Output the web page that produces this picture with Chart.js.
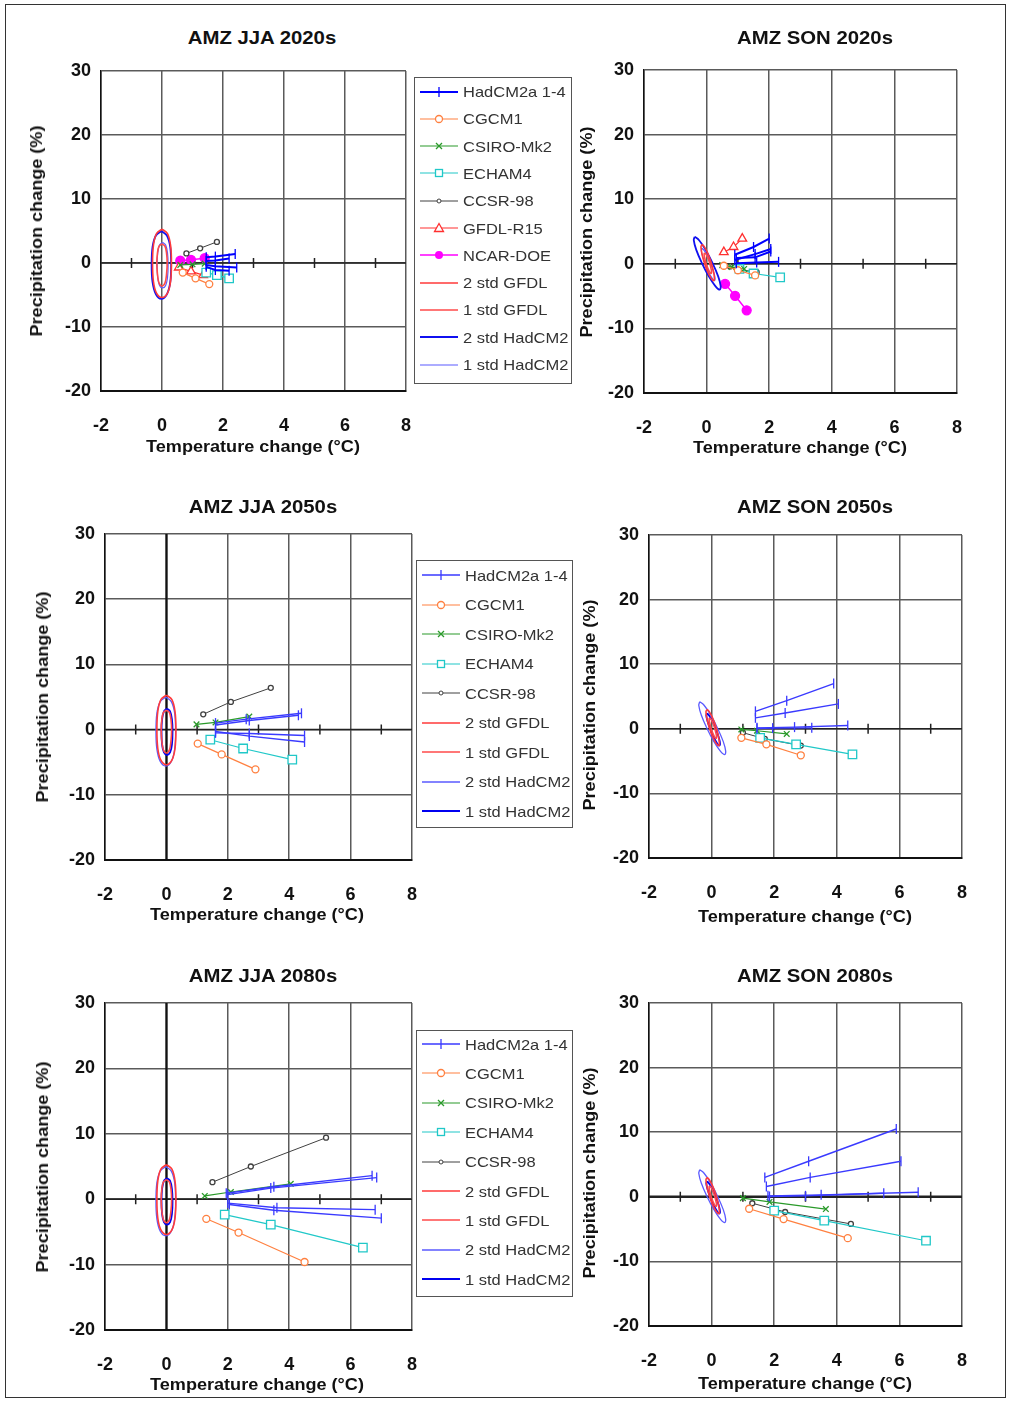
<!DOCTYPE html>
<html>
<head>
<meta charset="utf-8">
<script src="https://cdn.jsdelivr.net/npm/chart.js@4.4.0/dist/chart.umd.min.js"></script>
<style>
  html,body{margin:0;padding:0;background:#fff;}
  #page{position:relative;width:1013px;height:1401px;overflow:hidden;font-family:Arial,"Liberation Sans",sans-serif;}
  .frame{position:absolute;left:5px;top:4px;width:1001px;height:1394px;border:1.5px solid #333;box-sizing:border-box;}
  canvas{position:absolute;}
  .txt{position:absolute;white-space:nowrap;font-weight:bold;color:#111;}
  .legend{position:absolute;border:1.5px solid #555;box-sizing:border-box;background:#fff;z-index:5;}
  .row{position:absolute;left:4px;height:16px;display:flex;align-items:center;}
  .row span{font-size:15px;color:#333;display:inline-block;transform-origin:left center;transform:scaleX(1.1);margin-left:4px;}
</style>
</head>
<body>
<div id="page"><div class="frame"></div></div>
<script>
/* ---------- axes ---------- */
const X_TICKS = [-2, 0, 2, 4, 6, 8];
const Y_TICKS = [-20, -10, 0, 10, 20, 30];
const X_MARKS = [-1, 1, 3, 5, 7];   // small ticks on the y=0 axis line

/* ---------- texts ---------- */
const TITLES  = ["AMZ JJA 2020s","AMZ SON 2020s","AMZ JJA 2050s","AMZ SON 2050s","AMZ JJA 2080s","AMZ SON 2080s"];
const X_TITLE = "Temperature change (°C)";
const Y_TITLE = "Precipitation change (%)";
const LEGEND_2020S = ["HadCM2a 1-4","CGCM1","CSIRO-Mk2","ECHAM4","CCSR-98","GFDL-R15","NCAR-DOE","2 std GFDL","1 std GFDL","2 std HadCM2","1 std HadCM2"];
const LEGEND_LATER = ["HadCM2a 1-4","CGCM1","CSIRO-Mk2","ECHAM4","CCSR-98","2 std GFDL","1 std GFDL","2 std HadCM2","1 std HadCM2"];

/* ---------- natural variability ellipses (temp °C, precip %) ---------- */
const JJA_GFDL_2STD = [[0,5.3],[0.18,4.6],[0.28,2.8],[0.31,0],[0.28,-2.9],[0.18,-4.7],[0,-5.4],[-0.18,-4.7],[-0.28,-2.9],[-0.31,0],[-0.28,2.8],[-0.18,4.6],[0,5.3]];
const JJA_GFDL_1STD = [[0,3.0],[0.1,2.6],[0.15,1.5],[0.17,0],[0.15,-1.7],[0.1,-3.1],[0,-3.6],[-0.1,-3.1],[-0.15,-1.7],[-0.17,0],[-0.15,1.5],[-0.1,2.6],[0,3.0]];
const JJA_HAD_2STD  = [[-0.02,5.0],[0.16,4.3],[0.27,2.5],[0.3,-0.3],[0.27,-3.0],[0.16,-4.9],[-0.02,-5.6],[-0.2,-4.9],[-0.31,-3.0],[-0.34,-0.3],[-0.31,2.5],[-0.2,4.3],[-0.02,5.0]];
const JJA_HAD_1STD  = [[0.02,3.2],[0.12,2.8],[0.18,1.6],[0.2,-0.3],[0.18,-2.3],[0.12,-3.5],[0.02,-3.9],[-0.08,-3.5],[-0.14,-2.3],[-0.16,-0.3],[-0.14,1.6],[-0.08,2.8],[0.02,3.2]];
const SON_GFDL_2STD = [[-0.15,3.0],[-0.07,2.62],[0.04,1.6],[0.145,0.2],[0.22,-1.2],[0.25,-2.22],[0.22,-2.6],[0.14,-2.22],[0.03,-1.2],[-0.075,0.2],[-0.15,1.6],[-0.18,2.62],[-0.15,3.0]];
const SON_GFDL_1STD = [[-0.06,1.7],[-0.02,1.49],[0.04,0.9],[0.1,0.1],[0.14,-0.7],[0.16,-1.29],[0.14,-1.5],[0.1,-1.29],[0.04,-0.7],[-0.02,0.1],[-0.06,0.9],[-0.08,1.49],[-0.06,1.7]];
const SON_HAD_2STD  = [[-0.38,4.2],[-0.24,3.65],[-0.03,2.15],[0.19,0.1],[0.37,-1.95],[0.45,-3.45],[0.42,-4.0],[0.28,-3.45],[0.07,-1.95],[-0.15,0.1],[-0.33,2.15],[-0.41,3.65],[-0.38,4.2]];
const SON_HAD_1STD  = [[-0.15,2.4],[-0.08,2.07],[0.03,1.15],[0.14,-0.1],[0.23,-1.35],[0.27,-2.27],[0.25,-2.6],[0.18,-2.27],[0.07,-1.35],[-0.04,-0.1],[-0.13,1.15],[-0.17,2.07],[-0.15,2.4]];

/* ---------- JJA 2020s ---------- */
const JJA20_HAD1   = [[1.45,0.9],[1.75,1.0],[2.4,1.4]];
const JJA20_HAD2   = [[1.45,0.3],[1.75,0.4],[2.2,0.7]];
const JJA20_HAD3   = [[1.45,-0.3],[1.75,-0.5],[2.45,-0.7]];
const JJA20_HAD4   = [[1.45,-0.6],[1.75,-1.1],[2.2,-1.2]];
const JJA20_CGCM1  = [[0.68,-1.5],[1.1,-2.4],[1.55,-3.3]];
const JJA20_CSIRO  = [[0.6,-0.3],[1.0,-0.2],[1.4,-0.1]];
const JJA20_ECHAM4 = [[1.45,-1.5],[1.8,-1.9],[2.2,-2.4]];
const JJA20_CCSR   = [[0.8,1.5],[1.25,2.3],[1.8,3.3]];
const JJA20_GFDL   = [[0.55,-0.7],[0.95,-1.3],[1.35,-1.9]];
const JJA20_NCAR   = [[0.6,0.35],[0.95,0.5],[1.4,0.75]];

/* ---------- SON 2020s ---------- */
const SON20_HAD1   = [[0.9,1.4],[1.5,2.6],[2.0,3.9]];
const SON20_HAD2   = [[0.9,0.6],[1.55,1.5],[2.05,2.3]];
const SON20_HAD3   = [[0.95,0.1],[1.6,0.2],[2.3,0.3]];
const SON20_HAD4   = [[0.95,0.9],[1.55,1.0],[2.05,1.9]];
const SON20_CGCM1  = [[0.55,-0.3],[1.0,-1.0],[1.55,-1.8]];
const SON20_CSIRO  = [[0.5,-0.2],[0.8,-0.5],[1.2,-0.8]];
const SON20_ECHAM4 = [[1.05,-0.8],[1.5,-1.5],[2.35,-2.1]];
const SON20_CCSR   = [[0.75,-0.4],[1.07,-0.9],[1.6,-1.3]];
const SON20_GFDL   = [[0.55,1.8],[0.86,2.6],[1.14,3.9]];
const SON20_NCAR   = [[0.59,-3.1],[0.91,-4.95],[1.28,-7.2]];

/* ---------- JJA 2050s ---------- */
const JJA50_HAD1   = [[1.6,1.0],[2.6,1.6],[4.4,2.5]];
const JJA50_HAD2   = [[1.6,0.7],[2.7,1.4],[4.3,2.2]];
const JJA50_HAD3   = [[1.6,-0.5],[2.7,-0.6],[4.5,-0.9]];
const JJA50_HAD4   = [[1.6,-0.3],[2.7,-1.0],[4.5,-1.9]];
const JJA50_CGCM1  = [[1.02,-2.15],[1.8,-3.8],[2.9,-6.1]];
const JJA50_CSIRO  = [[0.98,0.8],[1.6,1.1],[2.7,2.0]];
const JJA50_ECHAM4 = [[1.43,-1.55],[2.5,-2.9],[4.1,-4.6]];
const JJA50_CCSR   = [[1.2,2.35],[2.1,4.25],[3.4,6.4]];

/* ---------- SON 2050s ---------- */
const SON50_HAD1   = [[1.4,2.7],[2.4,4.35],[3.9,7.0]];
const SON50_HAD2   = [[1.4,1.7],[2.35,2.45],[4.05,3.85]];
const SON50_HAD3   = [[1.45,0.15],[2.65,0.26],[4.35,0.5]];
const SON50_HAD4   = [[1.45,0.05],[1.95,0.1],[3.2,0.15]];
const SON50_CGCM1  = [[0.95,-1.4],[1.75,-2.4],[2.85,-4.1]];
const SON50_CSIRO  = [[0.95,-0.1],[1.45,-0.3],[2.4,-0.8]];
const SON50_ECHAM4 = [[1.55,-1.4],[2.7,-2.4],[4.5,-3.95]];
const SON50_CCSR   = [[1.0,-0.6],[1.7,-1.55],[2.85,-2.6]];

/* ---------- JJA 2080s ---------- */
const JJA80_HAD1   = [[1.95,0.9],[3.5,1.9],[6.7,3.6]];
const JJA80_HAD2   = [[2.0,0.7],[3.4,1.7],[6.85,3.3]];
const JJA80_HAD3   = [[2.0,-0.6],[3.6,-1.3],[6.8,-1.6]];
const JJA80_HAD4   = [[2.05,-0.8],[3.5,-1.7],[7.0,-2.9]];
const JJA80_CGCM1  = [[1.3,-3.0],[2.35,-5.1],[4.5,-9.6]];
const JJA80_CSIRO  = [[1.25,0.5],[2.1,1.1],[4.05,2.35]];
const JJA80_ECHAM4 = [[1.9,-2.35],[3.4,-3.9],[6.4,-7.4]];
const JJA80_CCSR   = [[1.5,2.6],[2.75,5.0],[5.2,9.4]];

/* ---------- SON 2080s ---------- */
const SON80_HAD1   = [[1.7,3.0],[3.1,5.5],[5.9,10.5]];
const SON80_HAD2   = [[1.75,1.6],[3.15,3.0],[6.05,5.5]];
const SON80_HAD3   = [[1.8,0.15],[3.5,0.3],[6.6,0.7]];
const SON80_HAD4   = [[1.85,0.05],[3.0,0.15],[5.5,0.55]];
const SON80_CGCM1  = [[1.2,-1.85],[2.3,-3.45],[4.35,-6.4]];
const SON80_CSIRO  = [[1.0,-0.2],[1.85,-0.8],[3.65,-1.9]];
const SON80_ECHAM4 = [[2.0,-2.15],[3.6,-3.7],[6.85,-6.8]];
const SON80_CCSR   = [[1.3,-1.0],[2.35,-2.35],[4.45,-4.2]];

/* ---------- styles ---------- */
const STYLE = {
  "HadCM2a 1-4": {color:"#0000ff", marker:"vline",  width:2},
  "CGCM1":       {color:"#ff8040", marker:"circle", width:1.2},
  "CSIRO-Mk2":   {color:"#2a9a2a", marker:"cross",  width:1.2},
  "ECHAM4":      {color:"#20c8c8", marker:"square", width:1.2},
  "CCSR-98":     {color:"#404040", marker:"dot",    width:1},
  "GFDL-R15":    {color:"#ff3030", marker:"triangle", width:1.2},
  "NCAR-DOE":    {color:"#ff00ff", marker:"filled", width:1.5},
  "2 std GFDL":  {color:"#ff3a3a", width:1.6},
  "1 std GFDL":  {color:"#ff4a4a", width:1.6},
  "2 std HadCM2":{color:"#1010f0", width:1.8},
  "1 std HadCM2":{color:"#5a5aff", width:1.2},
};
const STYLE_LATER = Object.assign({}, STYLE, {
  "HadCM2a 1-4": {color:"#3a3aff", marker:"vline", width:1.4},
  "2 std HadCM2":{color:"#5a5aff", width:1.3},
  "1 std HadCM2":{color:"#0000f0", width:1.8},
});
const POINT = {
  vline:   {pointStyle:"line", radius:5, rotation:90, fill:null},
  circle:  {pointStyle:"circle", radius:3.5, fill:"#fff"},
  cross:   {pointStyle:"crossRot", radius:4, fill:null},
  square:  {pointStyle:"rect", radius:6, fill:"#fff"},
  dot:     {pointStyle:"circle", radius:2.5, fill:"#fff"},
  triangle:{pointStyle:"triangle", radius:5, fill:"#fff"},
  filled:  {pointStyle:"circle", radius:4.5, fill:"fill"},
};

/* ---------- panels (geometry = plot area left, top, right, bottom) ---------- */
const PANELS = [
  {area:[101,71,406,391],  title:[262,38],  xt:[253,447],  yt:[37,231],  styles:STYLE, ell:"JJA", hw:1.5, v0:false,
   series:[["HadCM2a 1-4",[JJA20_HAD1,JJA20_HAD2,JJA20_HAD3,JJA20_HAD4]],["CGCM1",[JJA20_CGCM1]],["CSIRO-Mk2",[JJA20_CSIRO]],["ECHAM4",[JJA20_ECHAM4]],["CCSR-98",[JJA20_CCSR]],["GFDL-R15",[JJA20_GFDL]],["NCAR-DOE",[JJA20_NCAR]]]},
  {area:[644,70,957,393],  title:[815,38],  xt:[800,448],  yt:[587,232], styles:STYLE, ell:"SON", hw:1.5, v0:false,
   series:[["HadCM2a 1-4",[SON20_HAD1,SON20_HAD2,SON20_HAD3,SON20_HAD4]],["CGCM1",[SON20_CGCM1]],["CSIRO-Mk2",[SON20_CSIRO]],["ECHAM4",[SON20_ECHAM4]],["CCSR-98",[SON20_CCSR]],["GFDL-R15",[SON20_GFDL]],["NCAR-DOE",[SON20_NCAR]]]},
  {area:[105,534,412,860], title:[263,507], xt:[257,915],  yt:[43,697],  styles:STYLE_LATER, ell:"JJA", hw:1.5, v0:true,
   series:[["HadCM2a 1-4",[JJA50_HAD1,JJA50_HAD2,JJA50_HAD3,JJA50_HAD4]],["CGCM1",[JJA50_CGCM1]],["CSIRO-Mk2",[JJA50_CSIRO]],["ECHAM4",[JJA50_ECHAM4]],["CCSR-98",[JJA50_CCSR]]]},
  {area:[649,535,962,858], title:[815,507], xt:[805,917],  yt:[590,705], styles:STYLE_LATER, ell:"SON", hw:1.5, v0:false,
   series:[["HadCM2a 1-4",[SON50_HAD1,SON50_HAD2,SON50_HAD3,SON50_HAD4]],["CGCM1",[SON50_CGCM1]],["CSIRO-Mk2",[SON50_CSIRO]],["ECHAM4",[SON50_ECHAM4]],["CCSR-98",[SON50_CCSR]]]},
  {area:[105,1003,412,1330], title:[263,976], xt:[257,1385], yt:[43,1167], styles:STYLE_LATER, ell:"JJA", hw:1.5, v0:true,
   series:[["HadCM2a 1-4",[JJA80_HAD1,JJA80_HAD2,JJA80_HAD3,JJA80_HAD4]],["CGCM1",[JJA80_CGCM1]],["CSIRO-Mk2",[JJA80_CSIRO]],["ECHAM4",[JJA80_ECHAM4]],["CCSR-98",[JJA80_CCSR]]]},
  {area:[649,1003,962,1326], title:[815,976], xt:[805,1384], yt:[590,1173], styles:STYLE_LATER, ell:"SON", hw:2.5, v0:false,
   series:[["HadCM2a 1-4",[SON80_HAD1,SON80_HAD2,SON80_HAD3,SON80_HAD4]],["CGCM1",[SON80_CGCM1]],["CSIRO-Mk2",[SON80_CSIRO]],["ECHAM4",[SON80_ECHAM4]],["CCSR-98",[SON80_CCSR]]]},
];
const ELLIPSES = {
  JJA:[["2 std GFDL",JJA_GFDL_2STD],["1 std GFDL",JJA_GFDL_1STD],["2 std HadCM2",JJA_HAD_2STD],["1 std HadCM2",JJA_HAD_1STD]],
  SON:[["2 std GFDL",SON_GFDL_2STD],["1 std GFDL",SON_GFDL_1STD],["2 std HadCM2",SON_HAD_2STD],["1 std HadCM2",SON_HAD_1STD]],
};
const LEGENDS = [
  {box:[414,77,572,384],   y0:90.5, dy:27.3, names:LEGEND_2020S, styles:STYLE},
  {box:[416,560,573,828],  y0:574,  dy:29.5, names:LEGEND_LATER, styles:STYLE_LATER},
  {box:[416,1030,573,1297],y0:1043, dy:29.4, names:LEGEND_LATER, styles:STYLE_LATER},
];

/* ---------- layout constants for canvases ---------- */
// paddings are larger than the label overhang Chart.js adds, so the plot area lands exactly on "area"
const PAD = {left:4, top:22, right:34, bottom:4};
const Y_W = 56, X_H = 50;
const page = document.getElementById("page");
const TICK_FONT = {family:"Arial, 'Liberation Sans', sans-serif", size:18, weight:"bold"};

/* y=0 axis line with its small odd ticks, and optional heavy x=0 line */
const crossPlugin = {
  id:"cross",
  beforeDatasetsDraw(chart, args, opts){
    const {ctx, chartArea:a, scales:{x, y}} = chart;
    const y0 = y.getPixelForValue(0);
    ctx.save();
    ctx.strokeStyle = "#222";
    ctx.lineWidth = opts.hw;
    ctx.beginPath(); ctx.moveTo(a.left, y0); ctx.lineTo(a.right, y0); ctx.stroke();
    ctx.lineWidth = 1.5;
    ctx.beginPath();
    X_MARKS.forEach(v=>{ const px = x.getPixelForValue(v); ctx.moveTo(px, y0-5); ctx.lineTo(px, y0+5); });
    ctx.stroke();
    if(opts.v0){
      const x0 = x.getPixelForValue(0);
      ctx.lineWidth = 2.2; ctx.strokeStyle = "#111";
      ctx.beginPath(); ctx.moveTo(x0, a.top); ctx.lineTo(x0, a.bottom); ctx.stroke();
    }
    ctx.restore();
  }
};

const toXY = pts => pts.map(p=>({x:p[0], y:p[1]}));

function lineSet(name, pts, st){
  const m = POINT[st.marker];
  return {
    label:name, data:toXY(pts), showLine:true, tension:0,
    borderColor:st.color, borderWidth:st.width,
    pointStyle:m.pointStyle, pointRadius:m.radius, pointRotation:m.rotation||0,
    pointBorderColor:st.color, pointBorderWidth:1.3,
    pointBackgroundColor: m.fill==="fill" ? st.color : (m.fill||st.color),
    backgroundColor:st.color,
  };
}
function ellipseSet(name, pts, st){
  return {label:name, data:toXY(pts), showLine:true, tension:0.35, borderColor:st.color,
          borderWidth:st.width, pointRadius:0, backgroundColor:"transparent"};
}

function addText(str, cx, cy, size, rotate){
  const d = document.createElement("div");
  d.className = "txt";
  d.textContent = str;
  d.style.fontSize = size + "px";
  d.style.left = cx + "px"; d.style.top = cy + "px";
  d.style.transform = "translate(-50%,-50%)" + (rotate ? " rotate(-90deg)" : "") + " scaleX(1.13)";
  page.appendChild(d);
}

PANELS.forEach((p, i)=>{
  const [L, T, R, B] = p.area;
  const cv = document.createElement("canvas");
  const w = (R-L) + PAD.left + Y_W + PAD.right;
  const h = (B-T) + PAD.top + X_H + PAD.bottom;
  cv.width = w; cv.height = h;
  cv.style.left = (L - PAD.left - Y_W) + "px";
  cv.style.top  = (T - PAD.top) + "px";
  page.appendChild(cv);

  const datasets = [];
  ELLIPSES[p.ell].forEach(([name, pts])=> datasets.push(ellipseSet(name, pts, p.styles[name])));
  p.series.forEach(([name, list])=> list.forEach(pts=> datasets.push(lineSet(name, pts, p.styles[name]))));

  new Chart(cv, {
    type:"scatter",
    data:{datasets},
    plugins:[crossPlugin],
    options:{
      responsive:false, animation:false, devicePixelRatio:1,
      layout:{padding:PAD},
      plugins:{legend:{display:false}, tooltip:{enabled:false}, cross:{hw:p.hw, v0:p.v0}},
      scales:{
        x:{type:"linear", min:X_TICKS[0], max:X_TICKS[X_TICKS.length-1],
           afterBuildTicks:s=>{ s.ticks = X_TICKS.map(v=>({value:v})); },
           afterFit:s=>{ s.height = X_H; },
           grid:{color:"#5a5a5a", lineWidth:1.5, drawTicks:false},
           border:{color:"#111", width:2},
           ticks:{padding:24, color:"#111", font:TICK_FONT}},
        y:{type:"linear", min:Y_TICKS[0], max:Y_TICKS[Y_TICKS.length-1],
           afterBuildTicks:s=>{ s.ticks = Y_TICKS.map(v=>({value:v})); },
           afterFit:s=>{ s.width = Y_W; },
           grid:{color:"#5a5a5a", lineWidth:1.5, drawTicks:false},
           border:{color:"#111", width:1.5},
           ticks:{padding:10, color:"#111", font:TICK_FONT}},
      }
    }
  });

  addText(TITLES[i], p.title[0], p.title[1], 18, false);
  addText(X_TITLE, p.xt[0], p.xt[1], 16, false);
  addText(Y_TITLE, p.yt[0], p.yt[1], 16, true);
});

/* ---------- legends (HTML) ---------- */
function markerSvg(st){
  const c = st.color;
  let m = "";
  switch(st.marker){
    case "vline":   m = `<line x1="20" y1="2" x2="20" y2="12" stroke="${c}" stroke-width="1.3"/>`; break;
    case "circle":  m = `<circle cx="20" cy="7" r="3.5" fill="#fff" stroke="${c}" stroke-width="1.3"/>`; break;
    case "cross":   m = `<path d="M17 4 L23 10 M23 4 L17 10" stroke="${c}" stroke-width="1.3"/>`; break;
    case "square":  m = `<rect x="16.5" y="3.5" width="7" height="7" fill="#fff" stroke="${c}" stroke-width="1.3"/>`; break;
    case "dot":     m = `<circle cx="20" cy="7" r="2" fill="#fff" stroke="${c}" stroke-width="1"/>`; break;
    case "triangle":m = `<path d="M20 2.5 L24.5 10.5 L15.5 10.5 Z" fill="#fff" stroke="${c}" stroke-width="1.3"/>`; break;
    case "filled":  m = `<circle cx="20" cy="7" r="4" fill="${c}"/>`; break;
  }
  return `<svg width="40" height="14" viewBox="0 0 40 14"><line x1="1" y1="7" x2="39" y2="7" stroke="${c}" stroke-width="${st.width}"/>${m}</svg>`;
}
LEGENDS.forEach(lg=>{
  const [L, T, R, B] = lg.box;
  const box = document.createElement("div");
  box.className = "legend";
  box.style.left = L+"px"; box.style.top = T+"px";
  box.style.width = (R-L)+"px"; box.style.height = (B-T)+"px";
  lg.names.forEach((name, k)=>{
    const row = document.createElement("div");
    row.className = "row";
    row.style.top = (lg.y0 + k*lg.dy - T - 8) + "px";
    row.innerHTML = markerSvg(lg.styles[name]) + `<span>${name}</span>`;
    box.appendChild(row);
  });
  page.appendChild(box);
});
</script>
</body>
</html>
